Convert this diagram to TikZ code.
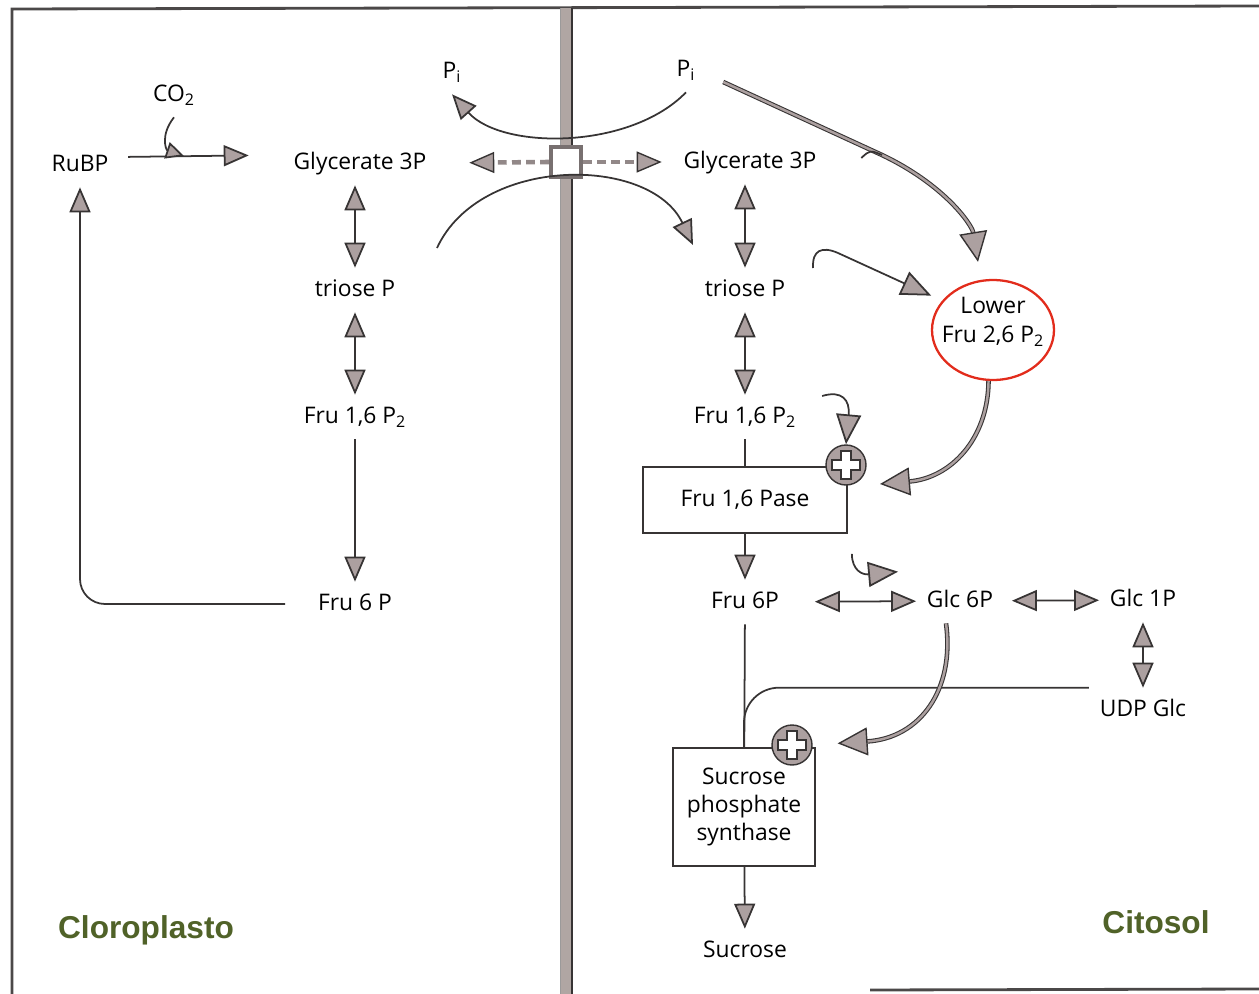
\documentclass[tikz,border=0pt]{standalone}
\usepackage{fontspec}
\setmainfont{Open Sans}
\newfontfamily\regionfont{Liberation Sans}
\usetikzlibrary{
  arrows.meta,       % Triangle tips
  calc,              % coordinate shifts
  shapes.geometric,  % ellipse ring
  positioning
}
\definecolor{linedark}{RGB}{55,52,52}
\definecolor{arrowfill}{RGB}{172,160,160}
\definecolor{membfill}{RGB}{176,166,163}
\definecolor{ringred}{RGB}{226,44,28}
\definecolor{olive}{RGB}{80,98,40}
\tikzset{
  metab/.style={
    font=\fontsize{13}{15}\selectfont,
    inner sep=6pt, text height=10pt, text depth=3pt
  },
  enzbox/.style={
    draw=linedark, line width=1pt, fill=white,
    font=\fontsize{13}{16}\selectfont,
    align=center, inner sep=0pt
  },
  flowarr/.style={
    draw=linedark, line width=1pt,
    -{Triangle[length=0.5cm, width=0.42cm, fill=arrowfill]}
  },
  botharr/.style={
    draw=linedark, line width=1pt,
    {Triangle[length=0.5cm, width=0.42cm, fill=arrowfill]}-{Triangle[length=0.5cm, width=0.42cm, fill=arrowfill]}
  },
  linkline/.style={
    draw=linedark, line width=1pt
  },
  shuttlearr/.style={
    draw=arrowfill!85!black, line width=2.6pt, dash pattern=on 5pt off 3pt,
    -{Triangle[length=0.5cm, width=0.42cm, fill=arrowfill, color=linedark, line width=0.8pt]}
  },
  regarr/.style={
    draw=linedark, line width=0.6pt, double=arrowfill, double distance=1.4pt,
    -{Triangle[length=0.6cm, width=0.56cm, fill=arrowfill, color=linedark, line width=0.8pt]}
  },
  hookarr/.style={
    draw=linedark, line width=1pt,
    -{Triangle[length=0.6cm, width=0.5cm, fill=arrowfill]}
  },
  smallarr/.style={
    draw=linedark, line width=1pt,
    -{Triangle[length=0.36cm, width=0.34cm, fill=arrowfill]}
  },
  plusdot/.style={
    circle, draw=linedark, line width=0.8pt, fill=arrowfill,
    minimum size=0.8cm, inner sep=0pt
  },
  porter/.style={
    draw=arrowfill!70!black, line width=2.4pt, fill=white,
    minimum size=0.6cm, inner sep=0pt
  },
  redring/.style={
    ellipse, draw=ringred, line width=1.3pt,
    minimum width=2.44cm, minimum height=2cm, inner sep=0pt
  },
  edgeline/.style={
    draw=linedark!90, line width=1.6pt
  },
  regionlbl/.style={
    font=\regionfont\bfseries\fontsize{18}{20}\selectfont, text=olive
  }
}
% white cross on an activation dot
\newcommand\pluscross[1]{%
  \begin{scope}[shift={(#1.center)}]
    \draw[linedark, line width=0.7pt, fill=white]
      (-5,-14) -- (5,-14) -- (5,-5) -- (14,-5) -- (14,5) -- (5,5) -- (5,14)
      -- (-5,14) -- (-5,5) -- (-14,5) -- (-14,-5) -- (-5,-5) -- cycle;
  \end{scope}}

\begin{document}
\begin{tikzpicture}[x=0.02cm, y=-0.02cm]
  \useasboundingbox (0,0) rectangle (1259,994);

  % --- frame and membrane ---
  \draw[edgeline] (12,994) -- (12,9) -- (1259,6);
  \draw[edgeline] (870,990) -- (1259,989);
  \fill[membfill] (560,8) rectangle (572,994);
  \draw[linedark, line width=0.9pt] (572,8) -- (572,994);
  \draw[linedark!50, line width=0.4pt] (560,8) -- (560,994);

  % --- chloroplast ---
  \node[metab] (rubp) at (80,165) {RuBP};
  \node[metab] (co2) at (174,95) {CO\textsubscript{2}};
  \node[metab] (g3pC) at (360,163) {Glycerate 3P};
  \node[metab] (trioseC) at (355,290) {triose P};
  \node[metab] (fbpC) at (355,417) {Fru 1,6 P\textsubscript{2}};
  \node[metab] (f6pC) at (355,604) {Fru 6 P};
  \coordinate (fixco2) at (184,156);

  \draw[flowarr, shorten <=0.18cm, shorten >=0.68cm]
    ([yshift=0.16cm]rubp.east) -- ([yshift=0.16cm]g3pC.west);
  \draw[smallarr] (co2.south) .. controls (160,135) and (166,150) .. (fixco2);
  \draw[botharr] (trioseC |- g3pC.south) -- (trioseC.north);
  \draw[botharr] (trioseC) -- (fbpC);
  \draw[flowarr] (fbpC) -- (f6pC);
  \draw[flowarr, rounded corners=0.5cm, shorten <=0.44cm] (f6pC.west) -| (rubp.south);

  % --- transporter ---
  \node[porter] (tpt) at (566,162) {};
  \node[metab] (piC) at (452,72) {P\textsubscript{i}};
  \node[metab] (piY) at (686,70) {P\textsubscript{i}};
  \node[metab] (g3pY) at (750,162) {Glycerate 3P};
  \coordinate (triexp) at (437,248);
  \coordinate (triimp) at (693,245);

  \draw[shuttlearr, shorten >=0.64cm] (tpt.west) -- (g3pC.east);
  \draw[shuttlearr, shorten >=0.22cm] (tpt.east) -- (g3pY.west);
  \draw[flowarr] (piY.south) .. controls (630,150) and (502,150) .. (piC.south);
  \draw[flowarr] (triexp) .. controls (480,155) and (650,155) .. (triimp);

  % --- cytosol ---
  \node[metab] (trioseY) at (745,290) {triose P};
  \node[metab] (fbpY) at (745,417) {Fru 1,6 P\textsubscript{2}};
  \node[enzbox, minimum width=4.08cm, minimum height=1.32cm] (fbpase) at (745,500) {Fru 1,6 Pase};
  \node[plusdot] (plusA) at (846,465) {};
  \node[metab] (f6pY) at (745,602) {Fru 6P};
  \node[metab] (g6p) at (960,601) {Glc 6P};
  \node[metab] (g1p) at (1143,600) {Glc 1P};
  \node[metab] (udpg) at (1143,710) {UDP Glc};
  \node[enzbox, minimum width=2.84cm, minimum height=2.36cm] (sps) at (744,807) {Sucrose\\phosphate\\synthase};
  \node[plusdot] (plusB) at (792,745) {};
  \node[metab] (sucrose) at (745,951) {Sucrose};
  \node[redring] (ring) at (993,330) {};
  \node[align=center, inner sep=0pt, font=\fontsize{13}{16}\selectfont] (f26) at (993,322)
        {Lower\\Fru 2,6 P\textsubscript{2}};
  \coordinate (merge) at (882,155);
  \coordinate (f26in) at (880,484);

  \draw[botharr] (trioseY |- g3pY.south) -- (trioseY.north);
  \draw[botharr] (trioseY) -- (fbpY);
  \draw[linkline] (fbpY) -- (fbpase);
  \draw[flowarr] (fbpase) -- (f6pY);
  \draw[botharr, shorten <=0.5cm] (f6pY) -- (g6p);
  \draw[botharr, shorten <=0.16cm] (g6p) -- (g1p);
  \draw[botharr] (g1p) -- (udpg);
  \draw[linkline] (f6pY) -- (sps);
  \draw[linkline, rounded corners=0.7cm] (udpg.north west) -| (sps.north);
  \draw[flowarr] (sps) -- (sucrose);

  % regulation of Fru 2,6 P2
  \draw[regarr] ([shift={(17,12)}]piY.east) -- (merge)
    .. controls (945,185) and (972,225) .. ([shift={(-15,-17)}]ring.north);
  \draw[linkline] ([shift={(34,-4)}]g3pY.east) .. controls (870,150) .. (merge);
  \draw[hookarr, shorten >=0.24cm] ([shift={(17,-22)}]trioseY.east)
    .. controls (812,250) and (822,246) .. (838,253) -- (ring.150);
  \draw[regarr] (ring.265) .. controls (988,440) and (950,478) .. (f26in);
  \draw[hookarr] ([shift={(15,-21)}]fbpY.east) .. controls (842,390) and (850,400) .. (plusA.north);
  \draw[hookarr] ([shift={(4,20)}]fbpase.south east) .. controls (852,570) and (862,575)
    .. ([shift={(-18,-7)}]g6p.north west);
  \draw[regarr, shorten >=0.5cm] ([xshift=-0.28cm]g6p.south) .. controls (955,690) and (920,738) .. (plusB.east);

  \pluscross{plusA}
  \pluscross{plusB}

  % --- compartments ---
  \node[regionlbl] (chloro) at (146,930) {Cloroplasto};
  \node[regionlbl] (cyto) at (1156,922) {Citosol};
\end{tikzpicture}
\end{document}
